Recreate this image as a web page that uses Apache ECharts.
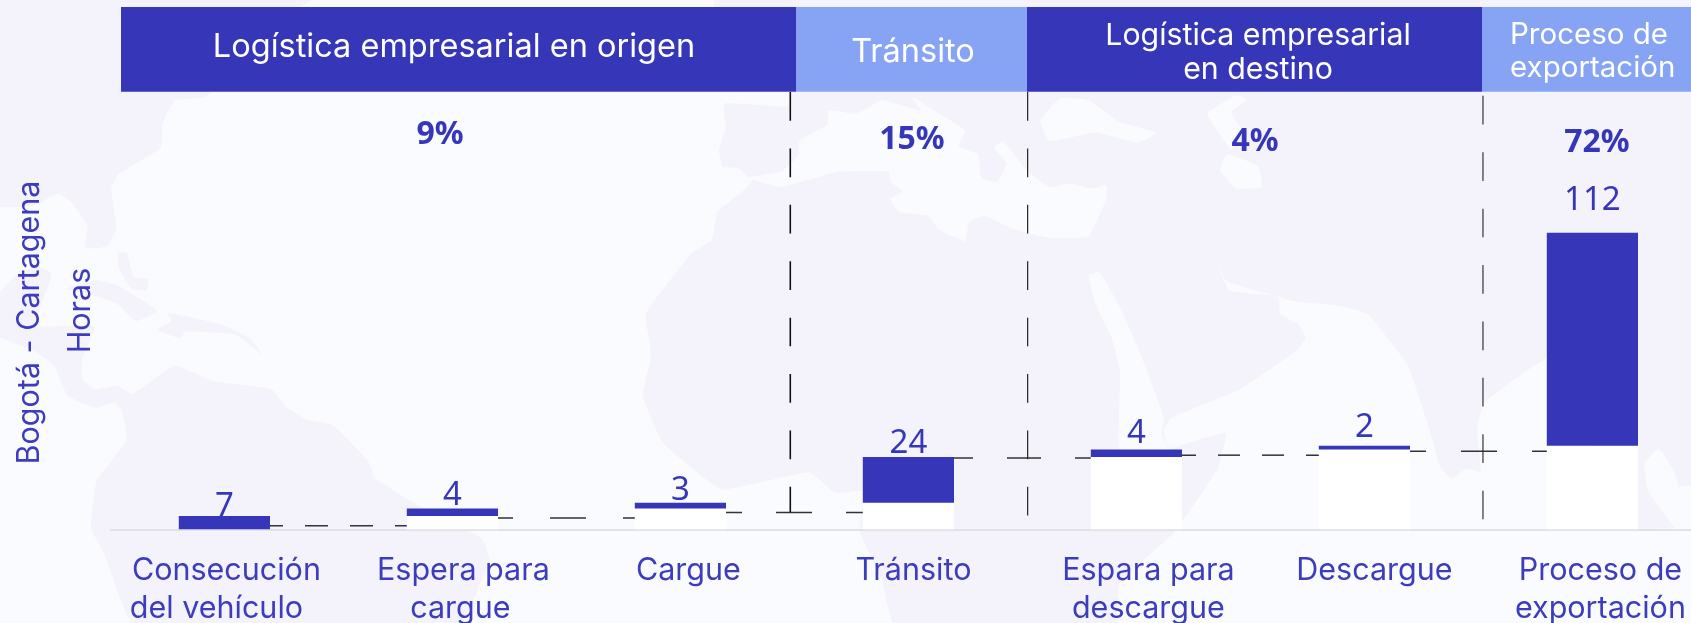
<!DOCTYPE html>
<html><head><meta charset="utf-8">
<style>html,body{margin:0;padding:0;background:#fafbff}#c{width:1691px;height:623px}</style>
<script src="https://cdn.jsdelivr.net/npm/echarts@6/dist/echarts.min.js"></script></head>
<body><div id="c"></div>
<script>
// ---- data ----
const categories = ['Consecución','Espera para','Cargue','Tránsito','Espara para','Descargue','Proceso de'];
const categoriesLine2 = ['del vehículo','cargue','','','descargue','','exportación'];
const hours = [7,4,3,24,4,2,112];
const stackBase = [0,7,11,14,38,42,44];
const connectorLevels = [1.9,5.9,8.9,37.5,39,41];
const bandTitles = [['Logística empresarial en origen'],['Tránsito'],['Logística empresarial','en destino'],['Proceso de','exportación']];
const bandShares = ['9%','15%','4%','72%'];

// ---- layout / style ----
const DARK='#3636b9', LIGHT='#87a3f3', TXT='#3c3cbd';
const SANS='Inter, "Noto Sans", sans-serif', NUM='"Noto Sans", sans-serif';
const labelGaps=[-7,-4,-4,-3,-1,2,16];
const catPadA=[[0,0,0,4],[0,0,0,22],[0,0,0,16],[0,0,0,10],[0,0,0,24],[0,0,0,20],[0,0,0,16]];
const catPadB=[[0,16,0,0],[0,0,0,16],[0,0,0,0],[0,0,0,0],[0,0,0,24],[0,0,0,0],[0,0,0,16]];
const connDash=[[23,22,10],[36,37,21],[36,34,20],[34,34,15],[22,22,8],[36,35,20]];
const seps=[{x:2.982,top:230,bot:9,w:1.6,c:'#111'},{x:4.023,top:230,bot:7,w:1.2,c:'#222'},{x:6.02,top:228,bot:5,w:1.2,c:'#333'}];
const bands=[{x:121,w:675.5,c:DARK,tx:454,ty:[47],fs:32.5},{x:796.5,w:230.5,c:LIGHT,tx:913,ty:[52],fs:32.5},{x:1027,w:455,c:DARK,tx:1258,ty:[36,70],fs:30.3},{x:1482,w:209,c:LIGHT,tx:1510,ty:[35.5,68.5],fs:29.5,left:true}];
const shareX=[440,912,1255,1597], shareY=[135,140,142,143];
const MAP='#f4f2fb', SEA='#fafbff';
const K=1568/533;
const A=p=>p.map(q=>[q[0]/2.8,90+q[1]/K]);
const B=p=>p.map(q=>[560+q[0]/2.8,90+q[1]/K]);
const C=p=>p.map(q=>[1120+q[0]/2.746,90+q[1]/K]);
const shapes=[
 [[-5,-5],[320,-5],[300,7],[206,97],...A([[490,30],[455,100],[450,170],[330,250],[312,290],[325,410],[300,460],[240,465],[245,400],[200,330],[165,305],[90,340],[-10,340]])],
 A([[-10,610],[50,540],[110,520],[145,540],[130,590],[110,650],[100,695],[265,695],[230,790],[230,850],[265,880],[330,870],[370,895],[490,810],[590,855],[760,880],[800,930],[860,970],[930,985],[1030,1090],[1050,1140],[1150,1210],[1350,1320],[1370,1380],[1280,1580],[380,1580],[290,1360],[255,1290],[270,1150],[355,1030],[340,940],[320,920],[270,935],[190,900],[150,810],[100,770],[-10,720]]),
 A([[185,585],[270,560],[330,575],[440,650],[380,680],[330,630],[250,600]]),
 A([[470,655],[620,690],[700,730],[735,780],[660,720],[520,710],[505,730],[440,705],[480,680]]),
 A([[330,480],[355,480],[375,550],[415,555],[410,590],[370,585],[335,530]]),
 [...B([[460,40],[640,48],[650,-10]]),[1700,80],[1700,630],[1100,630],...B([[940,1580],[900,1440],[840,1300],[850,1180],[770,1185],[700,1125],[560,1155],[450,1175],[290,1040],[232,900],[255,780],[240,660],[300,570],[370,480],[425,440],[440,360],[520,290],[540,262],[525,255],[500,230],[455,225],[445,175],[465,110]])],
 [[715,-5],[1700,-5],[1700,7],[715,7]]
];
const seaShapes=[
 B([[525,258],[620,285],[780,240],[920,240],[925,270],[960,300],[925,320],[950,360],[1030,370],[1060,410],[1135,445],[1145,390],[1190,370],[1270,410],[1370,435],[1480,430],[1530,320],[1530,280],[1490,290],[1430,275],[1370,285],[1310,240],[1240,150],[1215,170],[1250,215],[1225,270],[1180,260],[1170,190],[1115,165],[1135,120],[1070,75],[985,20],[1010,60],[900,30],[830,70],[750,60],[750,100],[670,150],[670,190],[620,240]]),
 [...B([[1345,90],[1400,25],[1480,30],[1568,95]]),...C([[100,125],[50,155]]),...B([[1500,125],[1370,150]])],
 C([[240,70],[320,15],[350,28],[305,65],[335,120],[305,175],[270,125]]),
 C([[275,235],[295,190],[380,225],[388,285],[320,290]]),
 [...B([[1480,545],[1510,535]]),...C([[0,640],[50,760],[100,900],[120,965],[115,1010],[130,1050],[180,1040],[100,1070],[0,1070],[0,830]]),...B([[1545,730],[1500,630]])],
 C([[265,500],[300,590],[430,605],[470,620],[600,635],[680,660],[790,810],[850,1000],[880,1110],[910,1145],[950,1115],[1005,1130],[1020,1170],[1000,1205],[985,1050],[980,1000],[1000,920],[1170,790],[1300,780],[1300,1290],[1580,1295],[1580,1580],[0,1580],[0,1450],[150,1300],[270,1110],[290,1010],[180,1040],[130,1048],[120,1000],[140,965],[330,880],[480,770],[510,730],[490,690],[440,660],[435,610],[340,580],[290,560]]),
 C([[1440,1100],[1480,1055],[1520,1120],[1535,1165],[1580,1165],[1580,1295],[1530,1295],[1450,1180]])
];
const chart=echarts.init(document.getElementById('c'),null,{renderer:'canvas'});
const richCat={};
categories.forEach((c,i)=>{
  richCat['a'+i]={padding:catPadA[i],fontFamily:SANS,fontSize:30.5,color:TXT,lineHeight:37.5};
  richCat['b'+i]={padding:catPadB[i],fontFamily:SANS,fontSize:30.5,color:TXT,lineHeight:37.5};
});
const graphics=[];
shapes.forEach(p=>graphics.push({type:'polygon',z:-10,silent:true,shape:{points:p,smooth:0.12},style:{fill:MAP}}));
seaShapes.forEach(p=>graphics.push({type:'polygon',z:-9,silent:true,shape:{points:p,smooth:0.12},style:{fill:SEA}}));
bands.forEach((b,i)=>{
  graphics.push({type:'rect',z:5,silent:true,shape:{x:b.x,y:7,width:b.w,height:84.7},style:{fill:b.c}});
  bandTitles[i].forEach((t,j)=>graphics.push({type:'text',z:6,silent:true,x:b.tx,y:b.ty[j],style:{text:t,fill:'#fff',font:b.fs+'px '+SANS,textAlign:b.left?'left':'center',textVerticalAlign:'middle'}}));
  graphics.push({type:'text',z:6,silent:true,x:shareX[i],y:shareY[i],style:{text:bandShares[i],fill:DARK,font:'bold 32px '+NUM,textAlign:'center',textVerticalAlign:'middle'}});
});
[['Bogotá - Cartagena',30,322.5],['Horas',81,310.5]].forEach(t=>graphics.push({type:'text',z:6,silent:true,x:t[1],y:t[2],rotation:Math.PI/2,style:{text:t[0],fill:TXT,font:'30.5px '+SANS,textAlign:'center',textVerticalAlign:'middle'}}));

const lineSeries=[];
connectorLevels.forEach((v,i)=>lineSeries.push({type:'line',xAxisIndex:1,yAxisIndex:0,silent:true,symbol:'none',animation:false,z:3,
  data:[[i+0.7,v],[i+1.3,v]],lineStyle:{color:'#333',width:1.5,type:connDash[i].slice(0,2),dashOffset:connDash[i][2]}}));
seps.forEach(s=>lineSeries.push({type:'line',xAxisIndex:1,yAxisIndex:0,silent:true,symbol:'none',animation:false,z:4,
  data:[[s.x,s.top],[s.x,s.bot]],lineStyle:{color:s.c,width:s.w,type:[28.7,27.7]}}));

chart.setOption({
  animation:false,
  backgroundColor:SEA,
  graphic:graphics,
  grid:{left:110.4,width:1596,top:16,height:513.3,outerBoundsMode:'none',containLabel:false},
  xAxis:[
    {type:'category',data:categories,axisTick:{show:false},axisLine:{lineStyle:{color:'#dcdcdf',width:1.5}},
     axisLabel:{interval:0,margin:23,color:TXT,fontFamily:SANS,fontSize:30.5,lineHeight:37.5,hideOverlap:false,
       formatter:(v,i)=>`{a${i}|${v}}`+(categoriesLine2[i]?`\n{b${i}|${categoriesLine2[i]}}`:''),rich:richCat,verticalAlign:'top'}},
    {type:'value',min:0,max:7,show:false}
  ],
  yAxis:{type:'value',min:0,max:270,show:false,splitLine:{show:false}},
  series:[
    {type:'bar',stack:'w',barWidth:'40%',silent:true,data:stackBase,itemStyle:{color:'#fff'},z:2},
    {type:'bar',stack:'w',barWidth:'40%',silent:true,itemStyle:{color:DARK},z:2,
     data:hours.map((h,i)=>({value:h,label:{show:true,position:'top',distance:labelGaps[i],formatter:String(h),color:DARK,fontFamily:NUM,fontSize:33}}))},
    ...lineSeries
  ]
});
</script></body></html>
